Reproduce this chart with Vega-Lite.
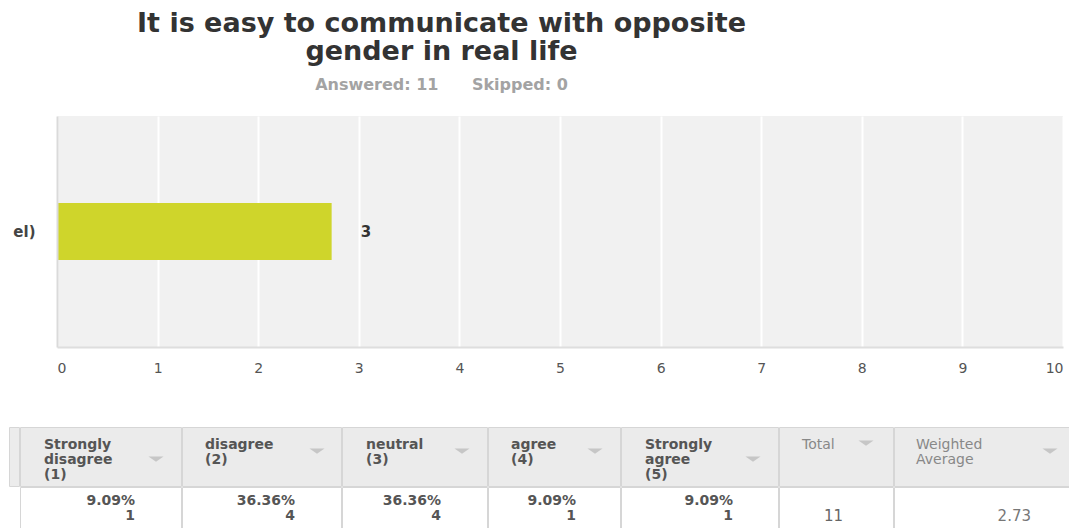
{
  "$schema": "https://vega.github.io/schema/vega-lite/v6.json",
  "padding": {"left": 8, "top": 10, "right": 0, "bottom": 0},
  "background": "white",
  "config": {"font": "DejaVu Sans", "view": {"stroke": null}},
  "title": {
    "text": ["It is easy to communicate with opposite", "gender in real life"],
    "subtitle": "Answered: 11\u00a0\u00a0\u00a0\u00a0\u00a0\u00a0Skipped: 0",
    "anchor": "middle",
    "dx": -100,
    "fontSize": 27,
    "fontWeight": "bold",
    "color": "#333333",
    "lineHeight": 28,
    "subtitleFontSize": 16,
    "subtitleFontWeight": "bold",
    "subtitleColor": "#a3a3a3",
    "subtitlePadding": 11,
    "offset": 22
  },
  "datasets": {
    "bar": [{"category": "el)", "value": 2.73}],
    "table": [
      {"col": "stub"},
      {"col": "sd", "header": "Strongly\ndisagree\n(1)", "share": 0.0909, "count": 1},
      {"col": "d", "header": "disagree\n(2)", "share": 0.3636, "count": 4},
      {"col": "n", "header": "neutral\n(3)", "share": 0.3636, "count": 4},
      {"col": "a", "header": "agree\n(4)", "share": 0.0909, "count": 1},
      {"col": "sa", "header": "Strongly\nagree\n(5)", "share": 0.0909, "count": 1},
      {"col": "total", "header": "Total", "value": 11},
      {"col": "wavg", "header": "Weighted\nAverage", "value": 2.73}
    ]
  },
  "spacing": 51,
  "vconcat": [
    {
      "width": 1054,
      "height": 231,
      "view": {"fill": "#f1f1f1", "stroke": null},
      "data": {"name": "bar"},
      "layer": [
        {"mark": {"type": "rect", "color": "#ffffff"},
          "encoding": {
            "x": {"datum": -0.477, "type": "quantitative", "scale": {"domain": [0, 10], "range": [48, 1054], "nice": false}},
            "x2": {"datum": 0}
          }},
        {"mark": {"type": "bar", "color": "#cfd52b"},
          "encoding": {
            "y": {"field": "category", "type": "nominal", "scale": {"paddingInner": 0.345, "paddingOuter": 1},
              "axis": {"title": null, "offset": -48, "zindex": 1, "labelFontSize": 15, "labelFontWeight": "bold", "labelColor": "#444444", "labelPadding": 22, "ticks": false, "tickSize": 0, "domainColor": "#dadada", "domainWidth": 2, "grid": false}},
            "x": {"field": "value", "type": "quantitative", "scale": {"domain": [0, 10], "range": [48, 1054], "nice": false},
              "axis": {"title": null, "format": "d", "values": [0, 1, 2, 3, 4, 5, 6, 7, 8, 9, 10], "labelFontSize": 14, "labelColor": "#555555", "labelPadding": 14, "ticks": false, "tickSize": 0, "domainColor": "#dedede", "domainWidth": 2, "grid": true, "gridColor": "#ffffff", "gridWidth": 2, "labelFlush": true}}
          }},
        {"mark": {"type": "text", "align": "left", "baseline": "middle", "dx": 29, "fontSize": 15, "fontWeight": "bold", "color": "#333333"},
          "encoding": {
            "y": {"field": "category", "type": "nominal"},
            "x": {"field": "value", "type": "quantitative"},
            "text": {"field": "value", "format": ".0f"}
          }}
      ]
    },
    {
      "spacing": -2,
      "vconcat": [
        {
          "spacing": -2,
          "hconcat": [
            {"width": 10, "height": 59, "view": {"fill": "#ececec", "stroke": "#d6d6d6"}, "data": {"name": "table"}, "transform": [{"filter": "datum.col === 'stub'"}],
              "mark": {"type": "text"}, "encoding": {"text": {"value": ""}}},
            {"width": 161, "height": 59, "view": {"fill": "#ebebeb", "stroke": "#d6d6d6"}, "data": {"name": "table"}, "transform": [{"filter": "datum.col === 'sd'"}],
              "encoding": {"y": {"datum": 1, "type": "quantitative", "scale": {"domain": [0, 1]}, "axis": null}},
              "layer": [
                {"mark": {"type": "text", "align": "left", "baseline": "top", "dx": 24, "dy": 11, "lineBreak": "\n", "lineHeight": 15, "fontSize": 14, "fontWeight": "bold", "color": "#555555"},
                  "encoding": {"x": {"datum": 0, "type": "quantitative", "scale": {"domain": [0, 1]}, "axis": null}, "text": {"field": "header"}}},
                {"mark": {"type": "point", "shape": "M-1,-0.35L1,-0.35L0,0.35Z", "filled": true, "size": 225, "color": "#c6c6c6", "opacity": 1, "xOffset": -25, "yOffset": 32},
                  "encoding": {"x": {"datum": 1, "type": "quantitative", "scale": {"domain": [0, 1]}, "axis": null}}}
              ]},
            {"width": 159, "height": 59, "view": {"fill": "#ebebeb", "stroke": "#d6d6d6"}, "data": {"name": "table"}, "transform": [{"filter": "datum.col === 'd'"}],
              "encoding": {"y": {"datum": 1, "type": "quantitative", "scale": {"domain": [0, 1]}, "axis": null}},
              "layer": [
                {"mark": {"type": "text", "align": "left", "baseline": "top", "dx": 23, "dy": 11, "lineBreak": "\n", "lineHeight": 15, "fontSize": 14, "fontWeight": "bold", "color": "#555555"},
                  "encoding": {"x": {"datum": 0, "type": "quantitative", "scale": {"domain": [0, 1]}, "axis": null}, "text": {"field": "header"}}},
                {"mark": {"type": "point", "shape": "M-1,-0.35L1,-0.35L0,0.35Z", "filled": true, "size": 225, "color": "#c6c6c6", "opacity": 1, "xOffset": -24, "yOffset": 24},
                  "encoding": {"x": {"datum": 1, "type": "quantitative", "scale": {"domain": [0, 1]}, "axis": null}}}
              ]},
            {"width": 145, "height": 59, "view": {"fill": "#ebebeb", "stroke": "#d6d6d6"}, "data": {"name": "table"}, "transform": [{"filter": "datum.col === 'n'"}],
              "encoding": {"y": {"datum": 1, "type": "quantitative", "scale": {"domain": [0, 1]}, "axis": null}},
              "layer": [
                {"mark": {"type": "text", "align": "left", "baseline": "top", "dx": 24, "dy": 11, "lineBreak": "\n", "lineHeight": 15, "fontSize": 14, "fontWeight": "bold", "color": "#555555"},
                  "encoding": {"x": {"datum": 0, "type": "quantitative", "scale": {"domain": [0, 1]}, "axis": null}, "text": {"field": "header"}}},
                {"mark": {"type": "point", "shape": "M-1,-0.35L1,-0.35L0,0.35Z", "filled": true, "size": 225, "color": "#c6c6c6", "opacity": 1, "xOffset": -25, "yOffset": 24},
                  "encoding": {"x": {"datum": 1, "type": "quantitative", "scale": {"domain": [0, 1]}, "axis": null}}}
              ]},
            {"width": 132, "height": 59, "view": {"fill": "#ebebeb", "stroke": "#d6d6d6"}, "data": {"name": "table"}, "transform": [{"filter": "datum.col === 'a'"}],
              "encoding": {"y": {"datum": 1, "type": "quantitative", "scale": {"domain": [0, 1]}, "axis": null}},
              "layer": [
                {"mark": {"type": "text", "align": "left", "baseline": "top", "dx": 23, "dy": 11, "lineBreak": "\n", "lineHeight": 15, "fontSize": 14, "fontWeight": "bold", "color": "#555555"},
                  "encoding": {"x": {"datum": 0, "type": "quantitative", "scale": {"domain": [0, 1]}, "axis": null}, "text": {"field": "header"}}},
                {"mark": {"type": "point", "shape": "M-1,-0.35L1,-0.35L0,0.35Z", "filled": true, "size": 225, "color": "#c6c6c6", "opacity": 1, "xOffset": -25, "yOffset": 24},
                  "encoding": {"x": {"datum": 1, "type": "quantitative", "scale": {"domain": [0, 1]}, "axis": null}}}
              ]},
            {"width": 157, "height": 59, "view": {"fill": "#ebebeb", "stroke": "#d6d6d6"}, "data": {"name": "table"}, "transform": [{"filter": "datum.col === 'sa'"}],
              "encoding": {"y": {"datum": 1, "type": "quantitative", "scale": {"domain": [0, 1]}, "axis": null}},
              "layer": [
                {"mark": {"type": "text", "align": "left", "baseline": "top", "dx": 24, "dy": 11, "lineBreak": "\n", "lineHeight": 15, "fontSize": 14, "fontWeight": "bold", "color": "#555555"},
                  "encoding": {"x": {"datum": 0, "type": "quantitative", "scale": {"domain": [0, 1]}, "axis": null}, "text": {"field": "header"}}},
                {"mark": {"type": "point", "shape": "M-1,-0.35L1,-0.35L0,0.35Z", "filled": true, "size": 225, "color": "#c6c6c6", "opacity": 1, "xOffset": -25, "yOffset": 32},
                  "encoding": {"x": {"datum": 1, "type": "quantitative", "scale": {"domain": [0, 1]}, "axis": null}}}
              ]},
            {"width": 114, "height": 59, "view": {"fill": "#ebebeb", "stroke": "#d6d6d6"}, "data": {"name": "table"}, "transform": [{"filter": "datum.col === 'total'"}],
              "encoding": {"y": {"datum": 1, "type": "quantitative", "scale": {"domain": [0, 1]}, "axis": null}},
              "layer": [
                {"mark": {"type": "text", "align": "left", "baseline": "top", "dx": 23, "dy": 11, "lineBreak": "\n", "lineHeight": 15, "fontSize": 14, "fontWeight": "normal", "color": "#888888"},
                  "encoding": {"x": {"datum": 0, "type": "quantitative", "scale": {"domain": [0, 1]}, "axis": null}, "text": {"field": "header"}}},
                {"mark": {"type": "point", "shape": "M-1,-0.35L1,-0.35L0,0.35Z", "filled": true, "size": 225, "color": "#c6c6c6", "opacity": 1, "xOffset": -27, "yOffset": 16},
                  "encoding": {"x": {"datum": 1, "type": "quantitative", "scale": {"domain": [0, 1]}, "axis": null}}}
              ]},
            {"width": 180, "height": 59, "view": {"fill": "#ebebeb", "stroke": "#d6d6d6"}, "data": {"name": "table"}, "transform": [{"filter": "datum.col === 'wavg'"}],
              "encoding": {"y": {"datum": 1, "type": "quantitative", "scale": {"domain": [0, 1]}, "axis": null}},
              "layer": [
                {"mark": {"type": "text", "align": "left", "baseline": "top", "dx": 22, "dy": 11, "lineBreak": "\n", "lineHeight": 15, "fontSize": 14, "fontWeight": "normal", "color": "#888888"},
                  "encoding": {"x": {"datum": 0, "type": "quantitative", "scale": {"domain": [0, 1]}, "axis": null}, "text": {"field": "header"}}},
                {"mark": {"type": "point", "shape": "M-1,-0.35L1,-0.35L0,0.35Z", "filled": true, "size": 225, "color": "#c6c6c6", "opacity": 1, "xOffset": -24, "yOffset": 24},
                  "encoding": {"x": {"datum": 1, "type": "quantitative", "scale": {"domain": [0, 1]}, "axis": null}}}
              ]}
          ]
        },
        {
          "spacing": -2,
          "hconcat": [
            {"width": 10, "height": 41, "view": {"fill": "#ffffff", "stroke": "#ffffff"}, "data": {"name": "table"}, "transform": [{"filter": "datum.col === 'stub'"}],
              "mark": {"type": "text"}, "encoding": {"text": {"value": ""}}},
            {"width": 161, "height": 41, "view": {"fill": "#ffffff", "stroke": "#d6d6d6"}, "data": {"name": "table"}, "transform": [{"filter": "datum.col === 'sd'"}],
              "encoding": {"x": {"datum": 1, "type": "quantitative", "scale": {"domain": [0, 1]}, "axis": null}, "y": {"datum": 1, "type": "quantitative", "scale": {"domain": [0, 1]}, "axis": null}},
              "layer": [
                {"mark": {"type": "text", "align": "right", "baseline": "middle", "dx": -46, "dy": 13.5, "fontSize": 14, "fontWeight": "bold", "color": "#555555"}, "encoding": {"text": {"field": "share", "format": ".2%"}}},
                {"mark": {"type": "text", "align": "right", "baseline": "middle", "dx": -46, "dy": 29, "fontSize": 14, "fontWeight": "bold", "color": "#555555"}, "encoding": {"text": {"field": "count"}}}
              ]},
            {"width": 159, "height": 41, "view": {"fill": "#ffffff", "stroke": "#d6d6d6"}, "data": {"name": "table"}, "transform": [{"filter": "datum.col === 'd'"}],
              "encoding": {"x": {"datum": 1, "type": "quantitative", "scale": {"domain": [0, 1]}, "axis": null}, "y": {"datum": 1, "type": "quantitative", "scale": {"domain": [0, 1]}, "axis": null}},
              "layer": [
                {"mark": {"type": "text", "align": "right", "baseline": "middle", "dx": -46, "dy": 13.5, "fontSize": 14, "fontWeight": "bold", "color": "#555555"}, "encoding": {"text": {"field": "share", "format": ".2%"}}},
                {"mark": {"type": "text", "align": "right", "baseline": "middle", "dx": -46, "dy": 29, "fontSize": 14, "fontWeight": "bold", "color": "#555555"}, "encoding": {"text": {"field": "count"}}}
              ]},
            {"width": 145, "height": 41, "view": {"fill": "#ffffff", "stroke": "#d6d6d6"}, "data": {"name": "table"}, "transform": [{"filter": "datum.col === 'n'"}],
              "encoding": {"x": {"datum": 1, "type": "quantitative", "scale": {"domain": [0, 1]}, "axis": null}, "y": {"datum": 1, "type": "quantitative", "scale": {"domain": [0, 1]}, "axis": null}},
              "layer": [
                {"mark": {"type": "text", "align": "right", "baseline": "middle", "dx": -46, "dy": 13.5, "fontSize": 14, "fontWeight": "bold", "color": "#555555"}, "encoding": {"text": {"field": "share", "format": ".2%"}}},
                {"mark": {"type": "text", "align": "right", "baseline": "middle", "dx": -46, "dy": 29, "fontSize": 14, "fontWeight": "bold", "color": "#555555"}, "encoding": {"text": {"field": "count"}}}
              ]},
            {"width": 132, "height": 41, "view": {"fill": "#ffffff", "stroke": "#d6d6d6"}, "data": {"name": "table"}, "transform": [{"filter": "datum.col === 'a'"}],
              "encoding": {"x": {"datum": 1, "type": "quantitative", "scale": {"domain": [0, 1]}, "axis": null}, "y": {"datum": 1, "type": "quantitative", "scale": {"domain": [0, 1]}, "axis": null}},
              "layer": [
                {"mark": {"type": "text", "align": "right", "baseline": "middle", "dx": -44, "dy": 13.5, "fontSize": 14, "fontWeight": "bold", "color": "#555555"}, "encoding": {"text": {"field": "share", "format": ".2%"}}},
                {"mark": {"type": "text", "align": "right", "baseline": "middle", "dx": -44, "dy": 29, "fontSize": 14, "fontWeight": "bold", "color": "#555555"}, "encoding": {"text": {"field": "count"}}}
              ]},
            {"width": 157, "height": 41, "view": {"fill": "#ffffff", "stroke": "#d6d6d6"}, "data": {"name": "table"}, "transform": [{"filter": "datum.col === 'sa'"}],
              "encoding": {"x": {"datum": 1, "type": "quantitative", "scale": {"domain": [0, 1]}, "axis": null}, "y": {"datum": 1, "type": "quantitative", "scale": {"domain": [0, 1]}, "axis": null}},
              "layer": [
                {"mark": {"type": "text", "align": "right", "baseline": "middle", "dx": -45, "dy": 13.5, "fontSize": 14, "fontWeight": "bold", "color": "#555555"}, "encoding": {"text": {"field": "share", "format": ".2%"}}},
                {"mark": {"type": "text", "align": "right", "baseline": "middle", "dx": -45, "dy": 29, "fontSize": 14, "fontWeight": "bold", "color": "#555555"}, "encoding": {"text": {"field": "count"}}}
              ]},
            {"width": 114, "height": 41, "view": {"fill": "#ffffff", "stroke": "#d6d6d6"}, "data": {"name": "table"}, "transform": [{"filter": "datum.col === 'total'"}],
              "encoding": {"x": {"datum": 1, "type": "quantitative", "scale": {"domain": [0, 1]}, "axis": null}, "y": {"datum": 1, "type": "quantitative", "scale": {"domain": [0, 1]}, "axis": null}},
              "layer": [
                {"mark": {"type": "text", "align": "right", "baseline": "middle", "dx": -50, "dy": 29, "fontSize": 15, "fontWeight": "normal", "color": "#666666"}, "encoding": {"text": {"field": "value"}}}
              ]},
            {"width": 180, "height": 41, "view": {"fill": "#ffffff", "stroke": "#d6d6d6"}, "data": {"name": "table"}, "transform": [{"filter": "datum.col === 'wavg'"}],
              "encoding": {"x": {"datum": 1, "type": "quantitative", "scale": {"domain": [0, 1]}, "axis": null}, "y": {"datum": 1, "type": "quantitative", "scale": {"domain": [0, 1]}, "axis": null}},
              "layer": [
                {"mark": {"type": "text", "align": "right", "baseline": "middle", "dx": -43, "dy": 29, "fontSize": 15, "fontWeight": "normal", "color": "#777777"}, "encoding": {"text": {"field": "value", "format": ".2f"}}}
              ]}
          ]
        }
      ]
    }
  ]
}
